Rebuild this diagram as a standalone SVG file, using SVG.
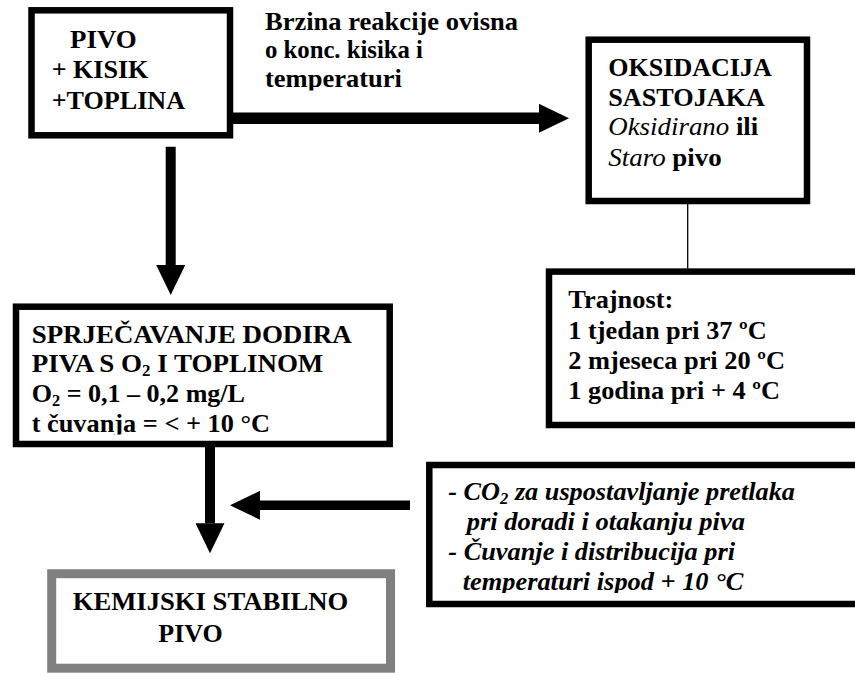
<svg xmlns="http://www.w3.org/2000/svg" width="855" height="673" viewBox="0 0 855 673">
<style>
.box{fill:#fff;stroke:#000;stroke-width:6.5}
.gbox{fill:#fff;stroke:#808080;stroke-width:9}
.t{font-family:'Liberation Serif','Times New Roman',serif;font-size:25.5px;font-weight:700;fill:#000}
.i{font-style:italic}
.sub{font-size:16px}
.con{stroke:#000;fill:none}
</style>
<defs>
<marker id="ah" markerUnits="userSpaceOnUse" markerWidth="30" markerHeight="29" refX="0" refY="14.5" orient="auto">
<path d="M0,0 L30,14.5 L0,29 z" fill="#000"/>
</marker>
<clipPath id="clipLabel"><rect x="250" y="0" width="300" height="90.5"/></clipPath>
<clipPath id="clipSpr"><rect x="19" y="310" width="368" height="124.5"/></clipPath>
<clipPath id="clipCo2"><rect x="432" y="468" width="430" height="125"/></clipPath>
</defs>

<g id="connectors">
<line class="con" x1="233" y1="118.3" x2="539" y2="118.3" stroke-width="11.5" marker-end="url(#ah)"/>
<line class="con" x1="170.7" y1="146.7" x2="170.7" y2="265" stroke-width="10" marker-end="url(#ah)"/>
<line class="con" x1="210" y1="447" x2="210" y2="523.3" stroke-width="10" marker-end="url(#ah)"/>
<line class="con" x1="410" y1="505.3" x2="260" y2="505.3" stroke-width="9.5" marker-end="url(#ah)"/>
<line class="con" x1="687.7" y1="204" x2="687.7" y2="268.5" stroke-width="1.3"/>
</g>

<g id="label-brzina" clip-path="url(#clipLabel)">
<text class="t" x="265" y="29.5" textLength="253" lengthAdjust="spacingAndGlyphs">Brzina reakcije ovisna</text>
<text class="t" x="265" y="58.3" textLength="158" lengthAdjust="spacingAndGlyphs">o konc. kisika i</text>
<text class="t" x="265" y="87.3" textLength="137" lengthAdjust="spacingAndGlyphs">temperaturi</text>
</g>

<g id="node-pivo">
<rect class="box" x="31.5" y="10.3" width="198.5" height="125"/>
<text class="t" x="70" y="47.7" textLength="66.7" lengthAdjust="spacingAndGlyphs">PIVO</text>
<text class="t" x="51.7" y="77.5" textLength="96.7" lengthAdjust="spacingAndGlyphs">+ KISIK</text>
<text class="t" x="51.7" y="109" textLength="133.3" lengthAdjust="spacingAndGlyphs">+TOPLINA</text>
</g>

<g id="node-oksidacija">
<rect class="box" x="588.7" y="39.7" width="218.3" height="161.3"/>
<text class="t" x="608.3" y="76" textLength="163.4" lengthAdjust="spacingAndGlyphs">OKSIDACIJA</text>
<text class="t" x="608.3" y="106" textLength="156.7" lengthAdjust="spacingAndGlyphs">SASTOJAKA</text>
<text class="t" x="608.3" y="135" textLength="150" lengthAdjust="spacingAndGlyphs"><tspan class="i" font-weight="400">Oksidirano</tspan> ili</text>
<text class="t" x="608.3" y="165.7" textLength="113.4" lengthAdjust="spacingAndGlyphs"><tspan class="i" font-weight="400">Staro</tspan> pivo</text>
</g>

<g id="node-trajnost">
<rect class="box" x="549" y="271.6" width="320" height="153.4"/>
<text class="t" x="568.3" y="308.3" textLength="105" lengthAdjust="spacingAndGlyphs">Trajnost:</text>
<text class="t" x="568.3" y="338.6" textLength="198.4" lengthAdjust="spacingAndGlyphs">1 tjedan pri 37 ºC</text>
<text class="t" x="568.3" y="369" textLength="216.7" lengthAdjust="spacingAndGlyphs">2 mjeseca pri 20 ºC</text>
<text class="t" x="568.3" y="399" textLength="211.7" lengthAdjust="spacingAndGlyphs">1 godina pri + 4 ºC</text>
</g>

<g id="node-sprjecavanje">
<rect class="box" x="16" y="306.7" width="373.7" height="137.3"/>
<g clip-path="url(#clipSpr)">
<text class="t" x="31.7" y="343.3" textLength="320" lengthAdjust="spacingAndGlyphs">SPRJEČAVANJE DODIRA</text>
<text class="t" x="31.7" y="371.7" textLength="291.6" lengthAdjust="spacingAndGlyphs">PIVA S O<tspan class="sub" dy="4">2</tspan><tspan dy="-4"> I TOPLINOM</tspan></text>
<text class="t" x="31.7" y="401.7" textLength="213.3" lengthAdjust="spacingAndGlyphs">O<tspan class="sub" dy="4">2</tspan><tspan dy="-4"> = 0,1 – 0,2 mg/L</tspan></text>
<text class="t" x="31.7" y="431.7" textLength="238.3" lengthAdjust="spacingAndGlyphs">t čuvanja = &lt; + 10 °C</text>
</g>
</g>

<g id="node-co2">
<rect class="box" x="429.3" y="465" width="440" height="139"/>
<g clip-path="url(#clipCo2)">
<text class="t i" x="448.3" y="500" textLength="346.7" lengthAdjust="spacingAndGlyphs">- CO<tspan class="sub" dy="4">2</tspan><tspan dy="-4"> za uspostavljanje pretlaka</tspan></text>
<text class="t i" x="466.7" y="530" textLength="278.3" lengthAdjust="spacingAndGlyphs">pri doradi i otakanju piva</text>
<text class="t i" x="448.3" y="560" textLength="286.7" lengthAdjust="spacingAndGlyphs">- Čuvanje i distribucija pri</text>
<text class="t i" x="462.7" y="590" textLength="280.6" lengthAdjust="spacingAndGlyphs">temperaturi ispod + 10 °C</text>
</g>
</g>

<g id="node-kemijski">
<rect class="gbox" x="51.7" y="573.7" width="338.8" height="94.5"/>
<text class="t" x="72.7" y="610" textLength="275.6" lengthAdjust="spacingAndGlyphs">KEMIJSKI STABILNO</text>
<text class="t" x="158.3" y="641.7" textLength="64.4" lengthAdjust="spacingAndGlyphs">PIVO</text>
</g>
</svg>
